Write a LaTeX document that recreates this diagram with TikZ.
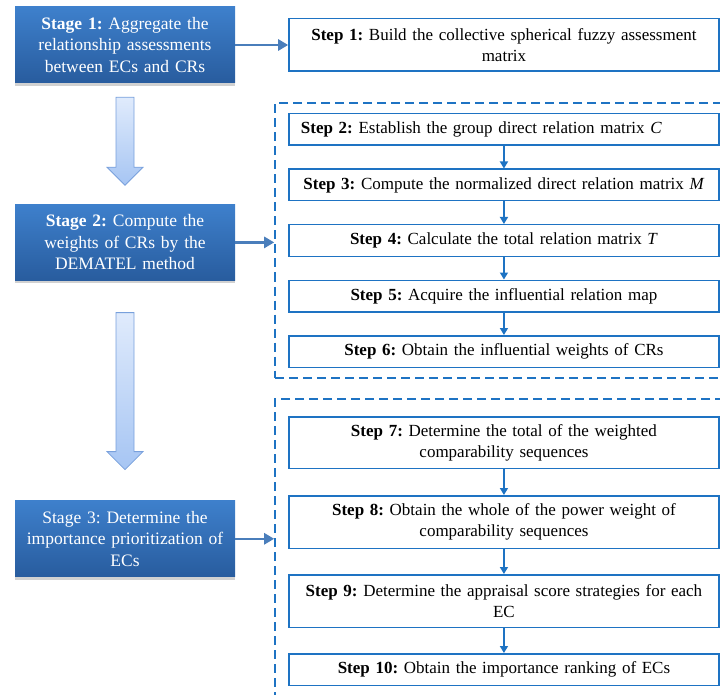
\documentclass[tikz,border=0pt]{standalone}
\usepackage{fontspec}
\setmainfont{Liberation Serif}
\usepackage{xcolor}
\usepackage{tikz}
\usetikzlibrary{arrows.meta,positioning,fit,calc,shadows}
\frenchspacing

\definecolor{stagetop}{RGB}{62,128,204}
\definecolor{stagebot}{RGB}{40,92,158}
\definecolor{stepblue}{RGB}{30,115,195}
\definecolor{linkblue}{RGB}{74,126,187}
\definecolor{flowtop}{RGB}{224,235,252}
\definecolor{flowbot}{RGB}{166,197,243}
\definecolor{flowedge}{RGB}{120,160,220}

\begin{document}
\begin{tikzpicture}[
    node distance=22.5pt,
    stage/.style={rectangle, top color=stagetop, bottom color=stagebot, text=white,
        minimum width=220pt, minimum height=76pt, text width=210pt, inner xsep=5pt,
        align=center, font=\fontsize{17.5pt}{21.5pt}\selectfont,
        drop shadow={shadow xshift=0pt, shadow yshift=-3pt, opacity=0.3, fill=black!60}},
    stepbox/.style={rectangle, draw=stepblue, line width=1.5pt, fill=white,
        minimum height=31.5pt, text width=406pt, inner xsep=12pt, inner ysep=2pt, align=center,
        font=\fontsize{17pt}{21pt}\selectfont},
    frame/.style={rectangle, draw=stepblue, line width=2pt, dash pattern=on 9pt off 5pt},
    link/.style={-{Triangle[length=10pt,width=11pt]}, draw=linkblue, line width=2.5pt},
    arrow/.style={-{Triangle[length=7pt,width=8pt]}, draw=stepblue, line width=1.5pt},
    bigarrow/.style={top color=flowtop, bottom color=flowbot, draw=flowedge, line width=0.8pt}
]
\useasboundingbox (0,0) rectangle (720pt,-695pt);

\node[stage] (stage1) at (125pt,-45pt) {\textbf{Stage 1:} Aggregate the\\relationship assessments\\between ECs and CRs};
\node[stage, below=121pt of stage1] (stage2) {\textbf{Stage 2:} Compute the\\weights of CRs by the\\DEMATEL method};
\node[stage, below=220pt of stage2] (stage3) {Stage 3: Determine the\\importance prioritization of\\ECs};

\node[stepbox, right=53pt of stage1, minimum height=52.5pt] (step1) {\textbf{Step 1:} Build the collective spherical fuzzy assessment\\matrix};
\node[stepbox, below=41pt of step1, align=left] (step2) {\textbf{Step 2:} Establish the group direct relation matrix \textit{C}};
\node[stepbox, below=of step2] (step3) {\textbf{Step 3:} Compute the normalized direct relation matrix \textit{M}};
\node[stepbox, below=of step3] (step4) {\textbf{Step 4:} Calculate the total relation matrix \textit{T}};
\node[stepbox, below=of step4] (step5) {\textbf{Step 5:} Acquire the influential relation map};
\node[stepbox, below=of step5] (step6) {\textbf{Step 6:} Obtain the influential weights of CRs};
\node[stepbox, below=48pt of step6, minimum height=51.5pt] (step7) {\textbf{Step 7:} Determine the total of the weighted\\comparability sequences};
\node[stepbox, below=26pt of step7, minimum height=52.5pt] (step8) {\textbf{Step 8:} Obtain the whole of the power weight of\\comparability sequences};
\node[stepbox, below=25pt of step8, minimum height=52.5pt] (step9) {\textbf{Step 9:} Determine the appraisal score strategies for each\\EC};
\node[stepbox, below=25pt of step9] (step10) {\textbf{Step 10:} Obtain the importance ranking of ECs};

\node[frame, fit=(step2)(step6), inner xsep=13pt, inner ysep=9.5pt] (group1) {};
\node[frame, fit=(step7)(step10), inner xsep=13pt, inner ysep=17pt] (group2) {};

\coordinate[below=14pt of stage1] (flow1a);
\coordinate[above=19pt of stage2] (flow1b);
\coordinate[below=32pt of stage2] (flow2a);
\coordinate[above=31pt of stage3] (flow2b);
\foreach \a/\b in {flow1a/flow1b, flow2a/flow2b}
    \draw[bigarrow] ($(\a)+(-9pt,0)$) -- ($(\b)+(-9pt,18pt)$) -- ($(\b)+(-18pt,18pt)$) -- (\b)
        -- ($(\b)+(18pt,18pt)$) -- ($(\b)+(9pt,18pt)$) -- ($(\a)+(9pt,0)$) -- cycle;

\draw[link] (stage1.east) -- (stage1.east -| step1.west);
\draw[link] (stage2.east) -- (stage2.east -| group1.west);
\draw[link] (stage3.east) -- (stage3.east -| group2.west);

\foreach \i [evaluate=\i as \j using int(\i+1)] in {2,...,5,7,8,9}
    \draw[arrow] (step\i) -- (step\j);
\end{tikzpicture}
\end{document}
